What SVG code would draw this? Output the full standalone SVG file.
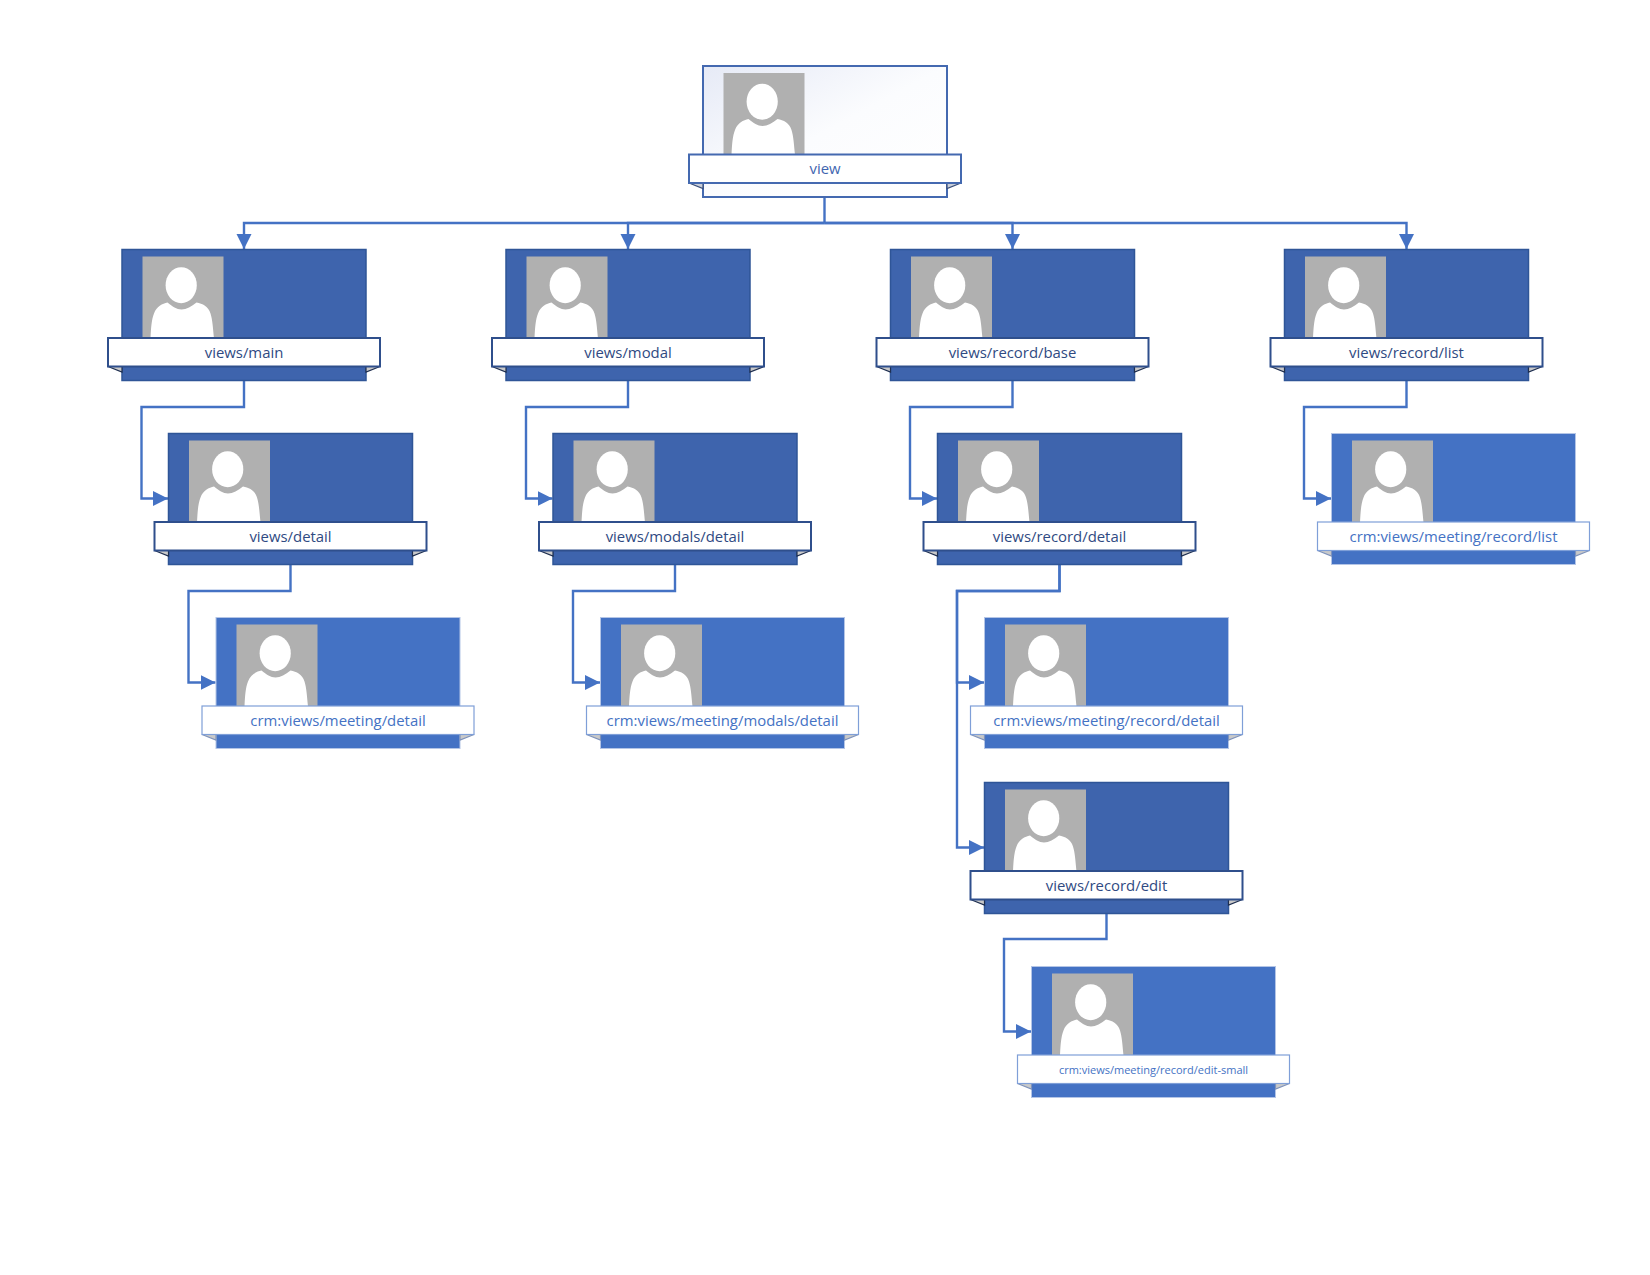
<svg xmlns="http://www.w3.org/2000/svg" width="1650" height="1275" viewBox="0 0 1650 1275">
<style>
.bg{fill:#fff}
.body{stroke-width:var(--bw);fill:var(--bf);stroke:var(--bs)}
.lbl{fill:#fff;stroke-width:var(--lw);stroke:var(--ls)}
.fold{stroke-width:1.2;fill:var(--ff);stroke:var(--fs)}
.t{font-family:"Open Sans","Noto Sans","Liberation Sans",sans-serif;font-size:14.9px;text-anchor:middle}
.root{--bf:url(#rootGrad);--bs:#4469b0;--bw:2;--ls:#4469b0;--lw:2;--ff:#c9ced8;--fs:#3a4f7a}
.root .t{fill:#3f66b0}
.dark{--bf:#3e64ad;--bs:#2f5597;--bw:1.500;--ls:#2f4f8c;--lw:2;--ff:#c9c9c9;--fs:#1f2f50}
.dark .t{fill:#2f4a82}
.light{--bf:#4472c4;--bs:#b4c5e6;--bw:1;--ls:#7f9fd8;--lw:1.200;--ff:#c9c9c9;--fs:#7f93bb}
.light .t{fill:#4472c4}
.t.small{font-size:11px}
.conn{fill:none;stroke:#4472c4;stroke-width:2.400}
</style>
<defs>
<linearGradient id="rootGrad" x1="0" y1="0" x2="1" y2="1">
<stop offset="0" stop-color="#e6eaf6"/><stop offset="0.5" stop-color="#fbfcfe"/><stop offset="1" stop-color="#fff"/>
</linearGradient>
<marker id="arrow" markerUnits="userSpaceOnUse" markerWidth="16" markerHeight="16" refX="15" refY="7.500" orient="auto">
<path d="M0 0L15 7.500L0 15Z" fill="#4472c4"/>
</marker>
<g id="photo">
<rect width="81" height="82" fill="#b0b0b0"/>
<ellipse cx="38.700" cy="28.700" rx="15.600" ry="18" fill="#fff"/>
<path d="M8 82C8.500 72 9 63 11.500 57C14 50 20 47 25 46C30 50 34 53 39 53C44 53 49 50 54 46C60 47 66 50 68 57C70 63 70.500 72 71.500 82Z" fill="#fff"/>
</g>
<g id="frame">
<rect class="body" width="244" height="131"/>
<path class="fold" d="M-14 117L0 122.500L0 117Z"/>
<path class="fold" d="M258 117L244 122.500L244 117Z"/>
<use href="#photo" x="20.500" y="7"/>
<rect class="lbl" x="-14" y="88.500" width="272" height="28.500"/>
</g>
</defs>
<rect class="bg" width="1650" height="1275"/>
<g id="connectors" class="conn">
<path d="M824.500 197V223"/>
<path d="M824.500 223H244V249" marker-end="url(#arrow)"/>
<path d="M824.500 223H628V249" marker-end="url(#arrow)"/>
<path d="M824.500 223H1012.500V249" marker-end="url(#arrow)"/>
<path d="M824.500 223H1406.500V249" marker-end="url(#arrow)"/>
<path d="M244 381V407H141.500V498.500H168" marker-end="url(#arrow)"/>
<path d="M290.500 565V591H188.500V682.500H215.500" marker-end="url(#arrow)"/>
<path d="M628 381V407H526V498.500H552.500" marker-end="url(#arrow)"/>
<path d="M675 565V591H573V682.500H600" marker-end="url(#arrow)"/>
<path d="M1012.500 381V407H910V498.500H937" marker-end="url(#arrow)"/>
<path d="M1059.500 565V591H957V682.500H984" marker-end="url(#arrow)"/>
<path d="M1059.500 565V591H957V847.500H984" marker-end="url(#arrow)"/>
<path d="M1106.500 913V939H1004V1031.500H1031" marker-end="url(#arrow)"/>
<path d="M1406.500 381V407H1304V498.500H1331" marker-end="url(#arrow)"/>
</g>
<g id="node-view" class="root" transform="translate(703 66)"><use href="#frame"/><text class="t" x="122" y="108">view</text></g>
<g id="node-main" class="dark" transform="translate(122 249.500)"><use href="#frame"/><text class="t" x="122" y="108">views/main</text></g>
<g id="node-modal" class="dark" transform="translate(506 249.500)"><use href="#frame"/><text class="t" x="122" y="108">views/modal</text></g>
<g id="node-record-base" class="dark" transform="translate(890.500 249.500)"><use href="#frame"/><text class="t" x="122" y="108">views/record/base</text></g>
<g id="node-record-list" class="dark" transform="translate(1284.500 249.500)"><use href="#frame"/><text class="t" x="122" y="108">views/record/list</text></g>
<g id="node-detail" class="dark" transform="translate(168.500 433.500)"><use href="#frame"/><text class="t" x="122" y="108">views/detail</text></g>
<g id="node-modals-detail" class="dark" transform="translate(553 433.500)"><use href="#frame"/><text class="t" x="122" y="108">views/modals/detail</text></g>
<g id="node-record-detail" class="dark" transform="translate(937.500 433.500)"><use href="#frame"/><text class="t" x="122" y="108">views/record/detail</text></g>
<g id="node-crm-list" class="light" transform="translate(1331.500 433.500)"><use href="#frame"/><text class="t" x="122" y="108">crm:views/meeting/record/list</text></g>
<g id="node-crm-detail" class="light" transform="translate(216 617.500)"><use href="#frame"/><text class="t" x="122" y="108">crm:views/meeting/detail</text></g>
<g id="node-crm-modals" class="light" transform="translate(600.500 617.500)"><use href="#frame"/><text class="t" x="122" y="108">crm:views/meeting/modals/detail</text></g>
<g id="node-crm-record" class="light" transform="translate(984.500 617.500)"><use href="#frame"/><text class="t" x="122" y="108">crm:views/meeting/record/detail</text></g>
<g id="node-record-edit" class="dark" transform="translate(984.500 782.500)"><use href="#frame"/><text class="t" x="122" y="108">views/record/edit</text></g>
<g id="node-crm-edit" class="light" transform="translate(1031.500 966.500)"><use href="#frame"/><text class="t small" x="122" y="107">crm:views/meeting/record/edit-small</text></g>
</svg>
